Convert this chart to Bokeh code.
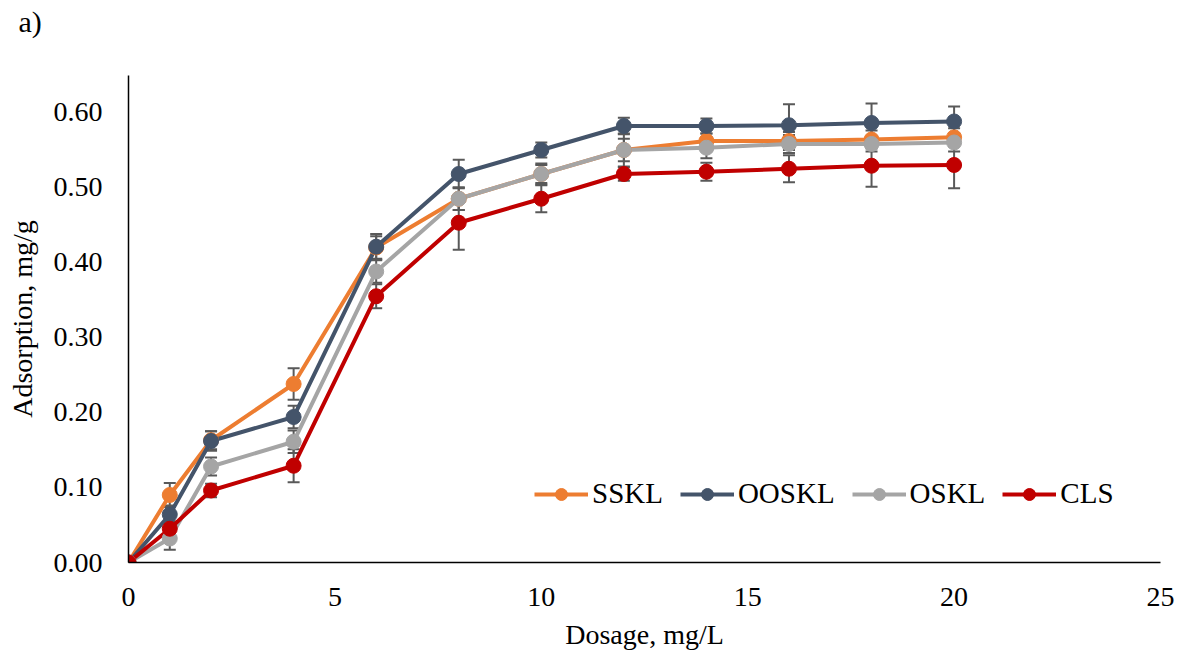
from bokeh.plotting import figure
from bokeh.models import (ColumnDataSource, Whisker, TeeHead, Legend, LegendItem,
                          FixedTicker, PrintfTickFormatter, Range1d, Title)
from bokeh.embed import file_html
from bokeh.resources import INLINE

# ---------------- data ----------------
dosage = [0, 1, 2, 4, 6, 8, 10, 12, 14, 16, 18, 20]

series_names = ["SSKL", "OOSKL", "OSKL", "CLS"]
series_colors = ["#ED7D31", "#44546A", "#A5A5A5", "#C00000"]

sskl = [0.000, 0.090, 0.163, 0.238, 0.420, 0.485, 0.518, 0.550, 0.562, 0.562, 0.564, 0.567]
ooskl = [0.000, 0.064, 0.162, 0.194, 0.421, 0.518, 0.550, 0.582, 0.582, 0.583, 0.586, 0.588]
oskl = [0.000, 0.032, 0.128, 0.161, 0.388, 0.485, 0.518, 0.550, 0.553, 0.558, 0.558, 0.560]
cls = [0.000, 0.045, 0.096, 0.129, 0.355, 0.453, 0.485, 0.518, 0.521, 0.525, 0.529, 0.530]

sskl_err = [0.0, 0.016, 0.012, 0.021, 0.015, 0.015, 0.012, 0.015, 0.010, 0.012, 0.012, 0.012]
ooskl_err = [0.0, 0.012, 0.013, 0.015, 0.017, 0.019, 0.010, 0.011, 0.010, 0.028, 0.026, 0.020]
oskl_err = [0.0, 0.015, 0.012, 0.015, 0.015, 0.015, 0.014, 0.022, 0.014, 0.012, 0.010, 0.012]
cls_err = [0.0, 0.010, 0.009, 0.022, 0.016, 0.036, 0.018, 0.009, 0.012, 0.018, 0.028, 0.031]

x_ticks = [0, 5, 10, 15, 20, 25]
y_ticks = [0.0, 0.1, 0.2, 0.3, 0.4, 0.5, 0.6]

x_title = "Dosage, mg/L"
y_title = "Adsorption, mg/g"
panel_label = "a)"

values = [sskl, ooskl, oskl, cls]
errors = [sskl_err, ooskl_err, oskl_err, cls_err]

FONT = "Liberation Serif"

# ---------------- figure ----------------
p = figure(width=1175, height=659, output_backend="svg", toolbar_location=None,
           x_range=Range1d(0, 25), y_range=Range1d(0, 0.6493),
           min_border_left=128, min_border_right=15, min_border_top=75,
           min_border_bottom=97, title=panel_label)
p.outline_line_color = None
p.grid.visible = False
p.background_fill_color = "white"
p.border_fill_color = "white"

p.title.text_font = FONT
p.title.text_font_size = "30px"
p.title.text_font_style = "normal"
p.title.text_color = "black"
p.title.align = "left"
p.title.offset = -110
p.title.standoff = 0

# blank spacer between the panel label and the plot area
p.add_layout(Title(text=" ", text_font=FONT, text_font_size="33px", standoff=0), "above")

for ax in (p.xaxis[0], p.yaxis[0]):
    ax.axis_line_color = "black"
    ax.axis_line_width = 1.5
    ax.major_tick_out = 0
    ax.major_tick_in = 0
    ax.minor_tick_out = 0
    ax.minor_tick_in = 0
    ax.major_label_text_font = FONT
    ax.major_label_text_font_size = "28px"
    ax.major_label_text_color = "black"
    ax.axis_label_text_font = FONT
    ax.axis_label_text_font_size = "28px"
    ax.axis_label_text_font_style = "normal"
    ax.axis_label_text_color = "black"

p.xaxis[0].ticker = FixedTicker(ticks=x_ticks)
p.xaxis[0].major_label_standoff = 25
p.xaxis[0].axis_label = x_title
p.xaxis[0].axis_label_standoff = 10

p.yaxis[0].ticker = FixedTicker(ticks=y_ticks)
p.yaxis[0].formatter = PrintfTickFormatter(format="%.2f")
p.yaxis[0].major_label_standoff = 26
p.yaxis[0].axis_label = y_title
p.yaxis[0].axis_label_standoff = 13

# error bars (behind the series)
for vals, errs in zip(values, errors):
    src = ColumnDataSource(dict(x=dosage,
                                upper=[v + e for v, e in zip(vals, errs)],
                                lower=[v - e for v, e in zip(vals, errs)]))
    w = Whisker(base="x", upper="upper", lower="lower", source=src, level="underlay",
                line_color="#595959", line_width=2,
                upper_head=TeeHead(size=12, line_color="#595959", line_width=2),
                lower_head=TeeHead(size=12, line_color="#595959", line_width=2))
    p.add_layout(w)

items = []
line_rs = []
for name, color, vals in zip(series_names, series_colors, values):
    src = ColumnDataSource(dict(x=dosage, y=vals))
    lr = p.line("x", "y", source=src, line_color=color, line_width=4)
    line_rs.append((lr, src))

for (lr, src), name, color in zip(line_rs, series_names, series_colors):
    sr = p.scatter("x", "y", source=src, marker="circle", size=15,
                   fill_color=color, line_color=color)
    items.append(LegendItem(label=name, renderers=[lr, sr]))

legend = Legend(items=items, orientation="horizontal", location=(406, 52),
                label_text_font=FONT, label_text_font_size="29px",
                label_text_color="black", glyph_width=54, glyph_height=30,
                label_height=30, label_standoff=4, spacing=17, padding=0, margin=0,
                border_line_alpha=0, background_fill_alpha=0)
p.add_layout(legend, "center")

open("out.html", "w").write(file_html(p, INLINE))
